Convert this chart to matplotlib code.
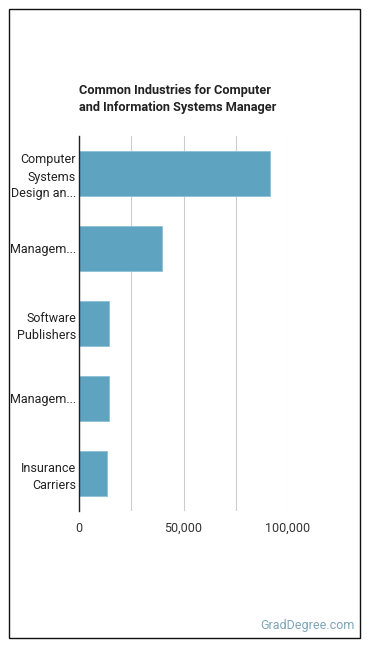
import matplotlib.pyplot as plt
from matplotlib.patches import Rectangle

plt.rcParams['font.family'] = ['Roboto', 'DejaVu Sans']

industries = ['Computer\nSystems\nDesign an...', 'Managem...', 'Software\nPublishers',
              'Managem...', 'Insurance\nCarriers']
workers = [91300, 39800, 14500, 14500, 13500]
ticks = [0, 25000, 50000, 75000, 100000]
tick_labels = ['0', '', '50,000', '', '100,000']

fig = plt.figure(figsize=(3.7, 6.48), dpi=100)
ax = fig.add_axes([79/370, 1 - 511/648, 209/370, 375/648])

pos = list(range(len(industries)))
ax.barh(pos, workers, height=0.61, color='#5ea3c0', edgecolor='#8cc0d6', linewidth=0.6, zorder=3)
ax.set_ylim(len(industries) - 0.5, -0.5)
ax.set_xlim(0, 100000)
ax.set_yticks(pos)
ax.set_yticklabels(industries, fontsize=9, color='#222222', linespacing=1.4)
ax.set_xticks(ticks)
ax.set_xticklabels(tick_labels, fontsize=9, color='#333333')
ax.tick_params(length=0)
ax.tick_params(axis='y', pad=2)
ax.tick_params(axis='x', pad=8)
ax.grid(axis='x', color='#cccccc', linewidth=0.8, zorder=0)
for s in ['top', 'right', 'bottom']:
    ax.spines[s].set_visible(False)
ax.spines['left'].set_color('#222222')
ax.spines['left'].set_linewidth(1)
ax.spines['left'].set_zorder(4)

fig.text(79/370, 1 - 99/648, 'Common Industries for Computer\nand Information Systems Manager',
         fontsize=9.2, fontweight='bold', color='#222222', ha='left', va='center', linespacing=1.45)
fig.text(355/370, 1 - 626/648, 'GradDegree.com', fontsize=9, color='#7ea6b8', ha='right', va='center')

fig.patches.append(Rectangle((8.5/370, 1 - 637.5/648), 351/370, 629/648, transform=fig.transFigure,
                             fill=False, edgecolor='#111111', linewidth=1))

fig.savefig('out.png', dpi=100)
